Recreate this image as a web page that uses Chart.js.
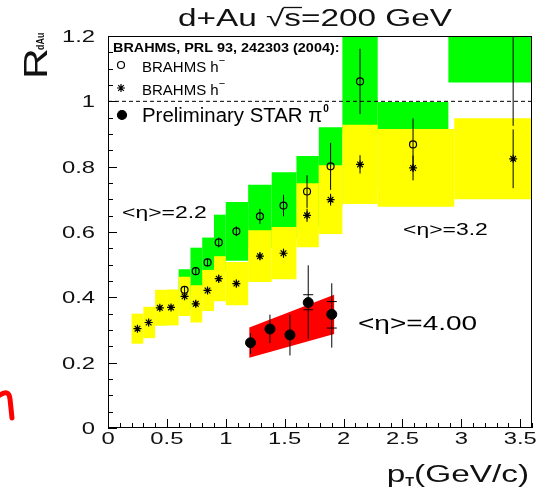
<!DOCTYPE html>
<html>
<head>
<meta charset="utf-8">
<script src="https://cdn.jsdelivr.net/npm/chart.js@4/dist/chart.umd.min.js"></script>
<style>
  html, body { margin: 0; padding: 0; background: #fff; }
  #wrap { width: 545px; height: 492px; }
</style>
</head>
<body>
<div id="wrap"><canvas id="c" width="545" height="492"></canvas></div>
<script>
// ---- BRAHMS h-, <eta> = 2.2 (open circles) ----
const ptEta22   = [0.65, 0.745, 0.845, 0.94, 1.09, 1.29, 1.49, 1.69, 1.89, 2.14, 2.59, 3.44];
const rEta22    = [0.423, 0.480, 0.507, 0.568, 0.602, 0.648, 0.681, 0.724, 0.801, 1.061, 0.868, 1.245];
const errEta22  = [0.010, 0.012, 0.012, 0.015, 0.015, 0.023, 0.033, 0.050, 0.072, 0.100, 0.080, 0.320];
const binLo22   = [0.60, 0.70, 0.80, 0.90, 1.00, 1.19, 1.39, 1.60, 1.79, 1.99, 2.29, 2.89];
const binHi22   = [0.70, 0.80, 0.90, 1.00, 1.19, 1.39, 1.60, 1.79, 1.99, 2.29, 2.89, 3.60];
const sysLo22   = [0.360, 0.408, 0.431, 0.483, 0.512, 0.551, 0.579, 0.615, 0.681, 0.902, 0.738, 1.058];
const sysHi22   = [0.486, 0.552, 0.583, 0.653, 0.692, 0.745, 0.783, 0.833, 0.921, 1.220, 0.998, 1.432];

// ---- BRAHMS h-, <eta> = 3.2 (stars) ----
const ptEta32   = [0.25, 0.345, 0.44, 0.535, 0.65, 0.745, 0.845, 0.94, 1.09, 1.29, 1.49, 1.69, 1.89, 2.14, 2.59, 3.44];
const rEta32    = [0.304, 0.323, 0.368, 0.369, 0.403, 0.380, 0.421, 0.457, 0.442, 0.526, 0.535, 0.651, 0.699, 0.807, 0.796, 0.824];
const errEta32  = [0.008, 0.008, 0.008, 0.008, 0.010, 0.010, 0.010, 0.012, 0.012, 0.012, 0.014, 0.020, 0.018, 0.028, 0.038, 0.090];
const binLo32   = [0.20, 0.30, 0.40, 0.50, 0.60, 0.70, 0.80, 0.90, 1.00, 1.19, 1.39, 1.60, 1.79, 1.99, 2.29, 2.94];
const binHi32   = [0.30, 0.40, 0.50, 0.60, 0.70, 0.80, 0.90, 1.00, 1.19, 1.39, 1.60, 1.79, 1.99, 2.29, 2.94, 3.60];
const sysLo32   = [0.258, 0.275, 0.313, 0.314, 0.343, 0.323, 0.358, 0.388, 0.376, 0.447, 0.455, 0.553, 0.594, 0.686, 0.677, 0.700];
const sysHi32   = [0.350, 0.371, 0.423, 0.424, 0.463, 0.437, 0.484, 0.526, 0.508, 0.605, 0.615, 0.749, 0.804, 0.928, 0.915, 0.948];

// ---- Preliminary STAR pi0, <eta> = 4.00 (filled circles) ----
const ptStar    = [1.21, 1.375, 1.545, 1.70, 1.90];
const rStar     = [0.261, 0.303, 0.285, 0.384, 0.348];
const errLoStar = [0.227, 0.260, 0.222, 0.273, 0.246];
const errHiStar = [0.290, 0.347, 0.347, 0.498, 0.443];
const capPtStar = [1.70, 1.70, 1.90, 1.90];
const capRStar  = [0.408, 0.362, 0.387, 0.306];
const bandPtStar     = [1.20, 1.92];
const bandTopStar    = [0.308, 0.408];
const bandBottomStar = [0.215, 0.288];

// ---- axes ----
const xTickValues = [0, 0.5, 1, 1.5, 2, 2.5, 3, 3.5];
const xTickLabels = ['0', '0.5', '1', '1.5', '2', '2.5', '3', '3.5'];
const yTickValues = [0, 0.2, 0.4, 0.6, 0.8, 1, 1.2];
const yTickLabels = ['0', '0.2', '0.4', '0.6', '0.8', '1', '1.2'];
const unityLine   = [1, 1];

const FONT = "'Liberation Sans', Arial, Helvetica, sans-serif";

// rectangles (one closed outline per bin, separated by gaps) for 'shape' filling
function boxes(lo, hi, bottom, top) {
  const pts = [];
  for (let i = 0; i < lo.length; i++) {
    pts.push({x: lo[i], y: bottom[i]}, {x: hi[i], y: bottom[i]},
             {x: hi[i], y: top[i]},    {x: lo[i], y: top[i]},
             {x: lo[i], y: null});
  }
  return pts;
}
// vertical error bars as separate two-point segments
function bars(x, lo, hi) {
  const pts = [];
  for (let i = 0; i < x.length; i++) {
    pts.push({x: x[i], y: lo[i]}, {x: x[i], y: hi[i]}, {x: x[i], y: null});
  }
  return pts;
}
const pairs = (x, y) => x.map((v, i) => ({x: v, y: y[i]}));

const lo22 = rEta22.map((v, i) => v - errEta22[i]);
const hi22 = rEta22.map((v, i) => v + errEta22[i]);
const lo32 = rEta32.map((v, i) => v - errEta32[i]);
const hi32 = rEta32.map((v, i) => v + errEta32[i]);

const redBand = [
  {x: bandPtStar[0], y: bandBottomStar[0]}, {x: bandPtStar[1], y: bandBottomStar[1]},
  {x: bandPtStar[1], y: bandTopStar[1]},    {x: bandPtStar[0], y: bandTopStar[0]}
];

const bandStyle = {showLine: true, borderWidth: 0, borderColor: 'rgba(0,0,0,0)', pointRadius: 0, fill: 'shape', spanGaps: false};
const barStyle  = {showLine: true, borderWidth: 1, borderColor: '#000', pointRadius: 0, fill: false, spanGaps: false};
const markStyle = {showLine: false, fill: false, borderColor: '#000', pointBorderColor: '#000'};

// stretched text helper: draws str with horizontal scale sx
function stext(ctx, str, x, y, size, sx, align, opts) {
  opts = opts || {};
  ctx.save();
  ctx.font = (opts.weight || '') + ' ' + size + 'px ' + (opts.family || FONT);
  ctx.fillStyle = opts.color || '#000';
  ctx.textBaseline = 'alphabetic';
  ctx.textAlign = 'left';
  const w = ctx.measureText(str).width * sx;
  const x0 = align === 'center' ? x - w / 2 : align === 'right' ? x - w : x;
  ctx.translate(x0, y);
  ctx.scale(sx, 1);
  ctx.fillText(str, 0, 0);
  ctx.restore();
  return w;
}
function swidth(ctx, str, size, sx, weight) {
  ctx.save();
  ctx.font = (weight || '') + ' ' + size + 'px ' + FONT;
  const w = ctx.measureText(str).width * sx;
  ctx.restore();
  return w;
}
// legend symbol through the library's point renderer
function symbol(ctx, style, radius, x, y, filled) {
  ctx.save();
  ctx.strokeStyle = '#000';
  ctx.fillStyle = filled ? '#000' : 'rgba(0,0,0,0)';
  ctx.lineWidth = 1.2;
  Chart.helpers.drawPoint(ctx, {pointStyle: style, radius: radius, borderWidth: 1.2}, x, y);
  ctx.restore();
}

const decorations = {
  id: 'decorations',
  afterDatasetsDraw(chart) {
    const {ctx, chartArea: a, scales: {x, y}} = chart;
    ctx.save();
    ctx.strokeStyle = '#000';
    ctx.lineWidth = 1;
    // frame
    ctx.strokeRect(Math.round(a.left) + 0.5, Math.round(a.top) + 0.5,
                   Math.round(a.right - a.left) - 1, Math.round(a.bottom - a.top) - 1);
    ctx.beginPath();
    // y ticks: major every 0.2, minor every 0.05, drawn inward from the left axis
    for (let k = 0; k <= 24; k++) {
      const v = k * 0.05;
      const py = Math.round(y.getPixelForValue(v)) + 0.5;
      const len = (k % 4 === 0) ? 9 : 5;
      ctx.moveTo(a.left, py); ctx.lineTo(a.left + len, py);
    }
    // x ticks: major every 0.5, minor every 0.1, drawn upward from the bottom axis
    for (let k = 0; k <= 36; k++) {
      const v = k * 0.1;
      const px = Math.round(x.getPixelForValue(v)) + 0.5;
      const len = (k % 5 === 0) ? 9 : 5;
      ctx.moveTo(px, a.bottom); ctx.lineTo(px, a.bottom - len);
    }
    ctx.stroke();
    ctx.restore();
  },
  afterDraw(chart) {
    const {ctx, chartArea: a, scales: {x, y}} = chart;
    const ink = '#111';
    // tick labels
    yTickValues.forEach((v, i) => {
      stext(ctx, yTickLabels[i], a.left - 13, y.getPixelForValue(v) + 6, 17, 1.4, 'right', {color: ink});
    });
    xTickValues.forEach((v, i) => {
      stext(ctx, xTickLabels[i], x.getPixelForValue(v), a.bottom + 16, 17, 1.4, 'center', {color: ink});
    });

    // title  d+Au sqrt(s)=200 GeV
    {
      const size = 23, sx = 1.45, base = 26;
      const parts = ['d+Au ', '\u221A', 's', '=200 GeV'];
      const total = parts.reduce((s, p) => s + swidth(ctx, p, size, sx), 0);
      let cx = 315 - total / 2;
      const w0 = stext(ctx, parts[0], cx, base, size, sx, 'left', {color: ink}); cx += w0;
      const w1 = stext(ctx, parts[1], cx, base, size, sx, 'left', {color: ink}); cx += w1;
      const w2 = stext(ctx, parts[2], cx, base, size, sx, 'left', {color: ink});
      ctx.save(); ctx.strokeStyle = ink; ctx.lineWidth = 1.3;
      ctx.beginPath(); ctx.moveTo(cx - 1, base - 18.5); ctx.lineTo(cx + w2 + 1, base - 18.5); ctx.stroke();
      ctx.restore();
      cx += w2;
      stext(ctx, parts[3], cx, base, size, sx, 'left', {color: ink});
    }

    // x axis title  p_T(GeV/c), right aligned with the frame
    {
      const sx = 1.45;
      const wP = swidth(ctx, 'p', 23, sx);
      const wT = swidth(ctx, 'T', 12, 1.2, 'bold');
      const wR = swidth(ctx, '(GeV/c)', 23, sx);
      let cx = a.right - 3 - (wP + wT + wR);
      cx += stext(ctx, 'p', cx, 482, 23, sx, 'left', {color: ink});
      cx += stext(ctx, 'T', cx, 486, 12, 1.2, 'left', {color: ink, weight: 'bold'});
      stext(ctx, '(GeV/c)', cx, 482, 23, sx, 'left', {color: ink});
    }

    // y axis title  R_dAu, vertical
    ctx.save();
    ctx.translate(47, 79);
    ctx.rotate(-Math.PI / 2);
    const wR = stext(ctx, 'R', 0, 0, 33, 1.3, 'left', {color: ink});
    stext(ctx, 'dAu', wR - 2, -3, 10.5, 0.85, 'left', {color: ink, weight: 'bold'});
    ctx.restore();

    // legend
    const mx = 121;
    stext(ctx, 'BRAHMS, PRL 93, 242303 (2004):', 113, 52, 12, 1.2, 'left', {weight: 'bold'});
    symbol(ctx, 'circle', 3.5, mx, 65, false);
    let w = stext(ctx, 'BRAHMS h', 142, 71.5, 15, 1.0, 'left');
    stext(ctx, '\u2212', 142 + w, 64, 11, 1.0, 'left');
    symbol(ctx, 'star', 4, mx, 88, false);
    w = stext(ctx, 'BRAHMS h', 142, 94.5, 15, 1.0, 'left');
    stext(ctx, '\u2212', 142 + w, 87, 11, 1.0, 'left');
    symbol(ctx, 'circle', 4.5, mx + 1, 115, true);
    w = stext(ctx, 'Preliminary STAR \u03C0', 142, 122, 20, 1.02, 'left');
    stext(ctx, '0', 142 + w + 1, 112, 10, 1.0, 'left', {weight: 'bold'});

    // pseudorapidity annotations
    stext(ctx, '<\u03B7>=2.2', 122, 218, 17, 1.35, 'left');
    stext(ctx, '<\u03B7>=3.2', 403, 235, 17, 1.35, 'left');
    stext(ctx, '<\u03B7>=4.00', 358, 330, 20, 1.4, 'left');

    // red pen stroke at the lower left edge
    ctx.save();
    ctx.strokeStyle = '#ff0000';
    ctx.lineWidth = 5;
    ctx.lineCap = 'round';
    ctx.lineJoin = 'round';
    ctx.beginPath();
    ctx.moveTo(0, 395);
    ctx.quadraticCurveTo(9, 389, 10, 399);
    ctx.lineTo(12, 418);
    ctx.stroke();
    ctx.restore();
  }
};

new Chart(document.getElementById('c'), {
  type: 'line',
  data: {
    datasets: [
      Object.assign({label: 'sys <eta>=2.2', data: boxes(binLo22, binHi22, sysLo22, sysHi22), backgroundColor: '#00ff00', order: 20}, bandStyle),
      Object.assign({label: 'sys <eta>=3.2', data: boxes(binLo32, binHi32, sysLo32, sysHi32), backgroundColor: '#ffff00', order: 19}, bandStyle),
      Object.assign({label: 'sys STAR', data: redBand, backgroundColor: '#ff0000', order: 18}, bandStyle),
      {label: 'unity', data: pairs([0, 3.6], unityLine), showLine: true, borderColor: '#000', borderWidth: 1,
       borderDash: [4, 3], pointRadius: 0, fill: false, order: 15},
      Object.assign({label: 'err <eta>=2.2', data: bars(ptEta22, lo22, hi22), order: 9}, barStyle),
      Object.assign({label: 'err <eta>=3.2', data: bars(ptEta32, lo32, hi32), order: 8}, barStyle),
      Object.assign({label: 'err STAR', data: bars(ptStar, errLoStar, errHiStar), order: 7}, barStyle),
      Object.assign({label: 'sys caps STAR', data: pairs(capPtStar, capRStar), pointStyle: 'line',
        pointRadius: 5, pointBorderWidth: 1, order: 6}, markStyle),
      Object.assign({label: 'BRAHMS h- <eta>=2.2', data: pairs(ptEta22, rEta22), pointStyle: 'circle',
        pointRadius: 3.5, pointBorderWidth: 1.2, pointBackgroundColor: 'rgba(0,0,0,0)', order: 3}, markStyle),
      Object.assign({label: 'BRAHMS h- <eta>=3.2', data: pairs(ptEta32, rEta32), pointStyle: 'star',
        pointRadius: 4, pointBorderWidth: 1.2, order: 2}, markStyle),
      Object.assign({label: 'Preliminary STAR pi0', data: pairs(ptStar, rStar), pointStyle: 'circle',
        pointRadius: 5, pointBorderWidth: 1, pointBackgroundColor: '#000', order: 1}, markStyle)
    ]
  },
  options: {
    responsive: false,
    animation: false,
    devicePixelRatio: 1,
    layout: {padding: {left: 108, right: 13, top: 36, bottom: 64}},
    scales: {
      x: {type: 'linear', min: 0, max: 3.6, display: false},
      y: {type: 'linear', min: 0, max: 1.2, display: false}
    },
    plugins: {legend: {display: false}, tooltip: {enabled: false}},
    events: []
  },
  plugins: [decorations]
});
</script>
</body>
</html>
